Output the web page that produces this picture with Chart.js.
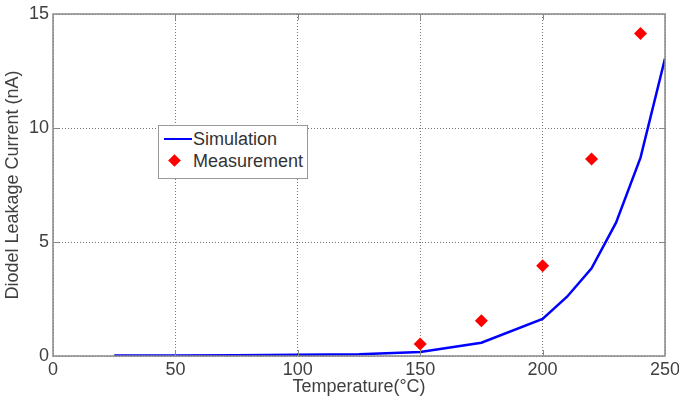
<!DOCTYPE html>
<html>
<head>
<meta charset="utf-8">
<script src="https://cdn.jsdelivr.net/npm/chart.js@4/dist/chart.umd.min.js"></script>
<style>
  html, body { margin: 0; padding: 0; background: #fff; }
  .wrap { position: relative; width: 679px; height: 403px; }
  .legend {
    position: absolute; left: 158px; top: 125px; width: 148px; height: 52px;
    background: #fff; border: 1px solid #999;
    font-family: "Liberation Sans", Arial, sans-serif; font-size: 18px; color: #333;
  }
  .legend .row { position: absolute; left: 0; height: 22px; line-height: 22px; }
  .legend .row span.txt { position: absolute; left: 34px; white-space: nowrap; }
  .legend .line { position: absolute; left: 5px; top: 10px; width: 28px; height: 0; border-top: 2.5px solid #0000ff; }
  .legend .dia { position: absolute; left: 11px; top: 6px; width: 9px; height: 9px; background: #ff0000; transform: rotate(45deg); }
</style>
</head>
<body>
<div class="wrap">
  <canvas id="chart" width="679" height="403"></canvas>
  <div class="legend">
    <div class="row" style="top:2px;"><i class="line"></i><span class="txt">Simulation</span></div>
    <div class="row" style="top:24px;"><i class="dia"></i><span class="txt">Measurement</span></div>
  </div>
</div>
<script>
// Data
const simTemp = [25, 50, 75, 100, 125, 150, 175, 200, 210, 220, 230, 240, 250];
const simCurrent = [0.02, 0.02, 0.03, 0.05, 0.08, 0.18, 0.58, 1.63, 2.6, 3.85, 5.85, 8.7, 13.05];
const measTemp = [150, 175, 200, 220, 240];
const measCurrent = [0.53, 1.55, 3.96, 8.64, 14.15];
const xTicks = [0, 50, 100, 150, 200, 250];
const yTicks = [0, 5, 10, 15];

const font = { family: '"Liberation Sans", Arial, sans-serif', size: 18 };
const textColor = '#404040';

// plot box + inward tick marks
const boxPlugin = {
    id: 'box',
    afterDraw(chart) {
        const { ctx, chartArea: a, scales } = chart;
        ctx.save();
        ctx.strokeStyle = '#888';
        ctx.lineWidth = 1.5;
        ctx.setLineDash([]);
        ctx.strokeRect(a.left, a.top, a.right - a.left, a.bottom - a.top);
        ctx.lineWidth = 1;
        ctx.beginPath();
        xTicks.slice(1, -1).forEach(v => {
            const x = Math.round(scales.x.getPixelForValue(v)) + 0.5;
            ctx.moveTo(x, a.bottom); ctx.lineTo(x, a.bottom - 6);
            ctx.moveTo(x, a.top); ctx.lineTo(x, a.top + 6);
        });
        yTicks.slice(1, -1).forEach(v => {
            const y = Math.round(scales.y.getPixelForValue(v)) + 0.5;
            ctx.moveTo(a.left, y); ctx.lineTo(a.left + 6, y);
            ctx.moveTo(a.right, y); ctx.lineTo(a.right - 6, y);
        });
        ctx.stroke();
        ctx.restore();
    }
};

new Chart(document.getElementById('chart'), {
    type: 'scatter',
    data: {
        datasets: [{
            label: 'Simulation',
            data: simTemp.map((t, i) => ({ x: t, y: simCurrent[i] })),
            showLine: true,
            borderColor: '#0000ff',
            borderWidth: 2.5,
            pointRadius: 0,
            tension: 0,
            order: 2
        }, {
            label: 'Measurement',
            data: measTemp.map((t, i) => ({ x: t, y: measCurrent[i] })),
            showLine: false,
            pointStyle: 'rectRot',
            pointRadius: 6.5,
            backgroundColor: '#ff0000',
            borderColor: '#ff0000',
            borderWidth: 0,
            order: 1
        }]
    },
    options: {
        responsive: false,
        animation: false,
        layout: { padding: { top: 14, right: 14, left: 0, bottom: 0 } },
        plugins: { legend: { display: false }, tooltip: { enabled: false } },
        scales: {
            x: {
                type: 'linear', min: 0, max: 250,
                afterFit(s) { s.height = 47; s.paddingLeft = 0; s.paddingRight = 0; },
                afterBuildTicks(s) { s.ticks = xTicks.map(v => ({ value: v })); },
                ticks: { font, color: textColor, padding: 3, maxRotation: 0 },
                grid: { color: '#777', drawTicks: false, lineWidth: 1 },
                border: { display: false, dash: [1, 2] },
                title: { display: true, text: 'Temperature(°C)', font, color: textColor, padding: { top: 0, bottom: 5 } }
            },
            y: {
                type: 'linear', min: 0, max: 15,
                afterFit(s) { s.width = 53; s.paddingTop = 0; s.paddingBottom = 0; },
                afterBuildTicks(s) { s.ticks = yTicks.map(v => ({ value: v })); },
                ticks: { font, color: textColor, padding: 4 },
                grid: { color: '#777', drawTicks: false, lineWidth: 1 },
                border: { display: false, dash: [1, 2] },
                title: { display: true, text: 'Diodel Leakage Current (nA)', font, color: textColor, padding: { top: 2, bottom: 0 } }
            }
        }
    },
    plugins: [boxPlugin]
});
</script>
</body>
</html>
